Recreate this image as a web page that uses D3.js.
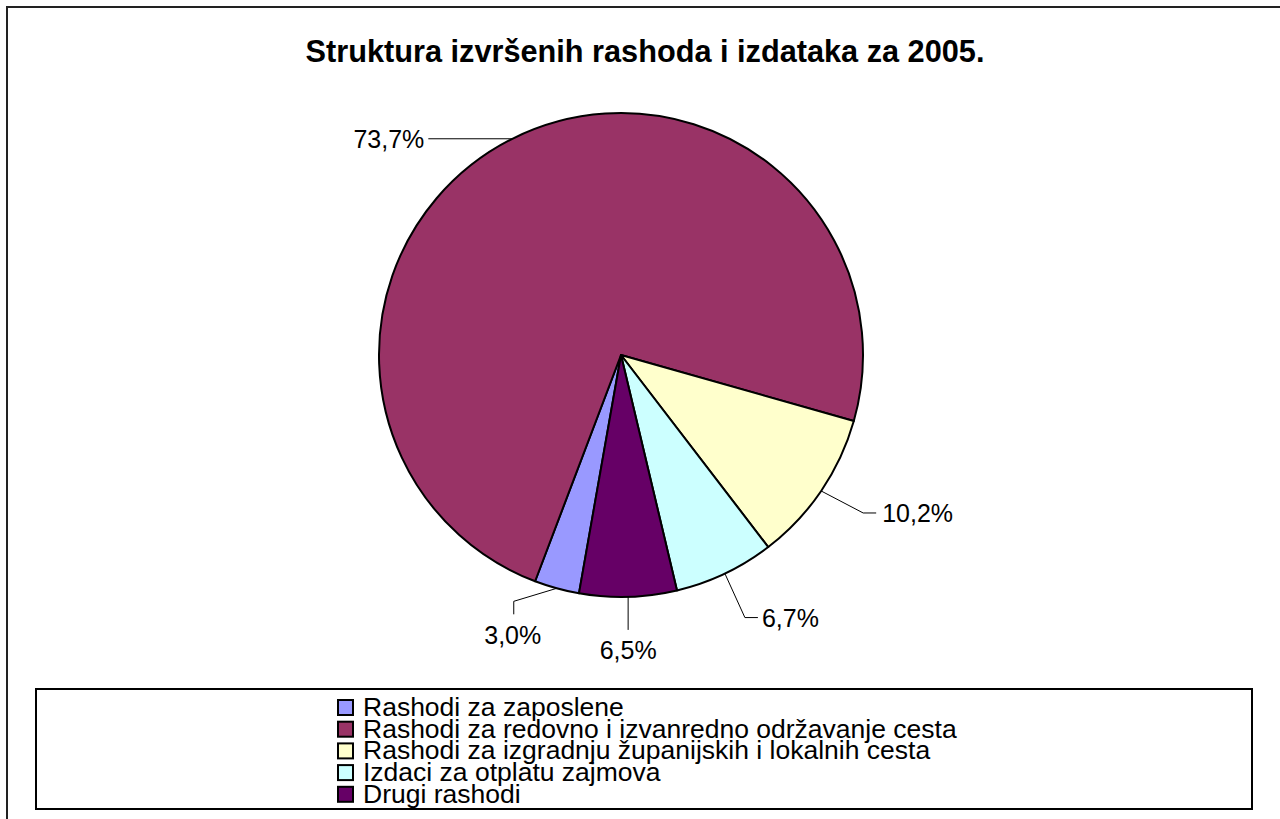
<!DOCTYPE html>
<html>
<head>
<meta charset="utf-8">
<script src="https://cdn.jsdelivr.net/npm/d3@7"></script>
<style>
  html, body { margin: 0; padding: 0; background: #fff; overflow: hidden; }
  svg { display: block; font-family: "Liberation Sans", Arial, sans-serif; }
</style>
</head>
<body>
<div id="vis"></div>
<script>
const title = "Struktura izvršenih rashoda i izdataka za 2005.";
const categories = [
  "Rashodi za zaposlene",
  "Rashodi za redovno i izvanredno održavanje cesta",
  "Rashodi za izgradnju županijskih i lokalnih cesta",
  "Izdaci za otplatu zajmova",
  "Drugi rashodi"
];
const shares = [3.0, 73.7, 10.2, 6.7, 6.5];
const shareLabels = ["3,0%", "73,7%", "10,2%", "6,7%", "6,5%"];
const colors = ["#9999FF", "#993366", "#FFFFCC", "#CCFFFF", "#660066"];

// where each data label sits, relative to the point where its leader meets the pie
const labelLayout = [
  { pts: [[-43, 13], [-43, 26]], anchor: "middle", dx: -1, dy: 30 },
  { pts: [[-84, 0]], anchor: "end", dx: -4, dy: 9 },
  { pts: [[42, 22], [55, 22]], anchor: "start", dx: 6, dy: 9 },
  { pts: [[20, 44], [33, 44]], anchor: "start", dx: 4, dy: 9 },
  { pts: [[0, 33]], anchor: "middle", dx: 0, dy: 29 }
];

const width = 1280, height = 819;
const cx = 621, cy = 355, radius = 242;
const firstSliceAngle = 190; // degrees, clockwise from 12 o'clock

const svg = d3.select("#vis")
  .append("svg")
  .attr("width", width)
  .attr("height", height);

// chart area frame (runs off the right and bottom edge)
svg.append("rect")
  .attr("x", 7).attr("y", 7)
  .attr("width", 1300).attr("height", 840)
  .attr("fill", "#fff")
  .attr("stroke", "#222")
  .attr("stroke-width", 2);

svg.append("text")
  .attr("x", 645).attr("y", 62)
  .attr("text-anchor", "middle")
  .attr("font-size", 30.7)
  .attr("font-weight", "bold")
  .text(title);

const pie = d3.pie()
  .sort(null)
  .startAngle(firstSliceAngle * Math.PI / 180)
  .endAngle(firstSliceAngle * Math.PI / 180 + 2 * Math.PI);

const arcs = pie(shares);
const arc = d3.arc().innerRadius(0).outerRadius(radius);
const edge = d3.arc().innerRadius(radius).outerRadius(radius);

const g = svg.append("g").attr("transform", "translate(" + cx + "," + cy + ")");

g.selectAll("path.slice")
  .data(arcs)
  .enter()
  .append("path")
  .attr("class", "slice")
  .attr("d", arc)
  .attr("fill", (d, i) => colors[i])
  .attr("stroke", "#000")
  .attr("stroke-width", 2)
  .attr("stroke-linejoin", "round");

//leader lines + labels
arcs.forEach((d, i) => {
  const p = edge.centroid(d);
  const lay = labelLayout[i];
  const pts = [p].concat(lay.pts.map(o => [p[0] + o[0], p[1] + o[1]]));
  g.append("path")
    .attr("d", d3.line()(pts))
    .attr("fill", "none")
    .attr("stroke", "#000")
    .attr("stroke-width", 1);
  const last = pts[pts.length - 1];
  g.append("text")
    .attr("x", last[0] + lay.dx)
    .attr("y", last[1] + lay.dy)
    .attr("text-anchor", lay.anchor)
    .attr("font-size", 25)
    .text(shareLabels[i]);
});

// legend
svg.append("rect")
  .attr("x", 36).attr("y", 689)
  .attr("width", 1216).attr("height", 120)
  .attr("fill", "#fff")
  .attr("stroke", "#000")
  .attr("stroke-width", 2);

const legend = svg.selectAll("g.leg")
  .data(categories)
  .enter()
  .append("g")
  .attr("class", "leg")
  .attr("transform", (d, i) => "translate(337," + (716 + i * 21.7) + ")");

legend.append("rect")
  .attr("x", 1).attr("y", -16)
  .attr("width", 15).attr("height", 15)
  .attr("fill", (d, i) => colors[i])
  .attr("stroke", "#000")
  .attr("stroke-width", 2);

legend.append("text")
  .attr("x", 26).attr("y", 0)
  .attr("font-size", 26.5)
  .text(d => d);
</script>
</body>
</html>
